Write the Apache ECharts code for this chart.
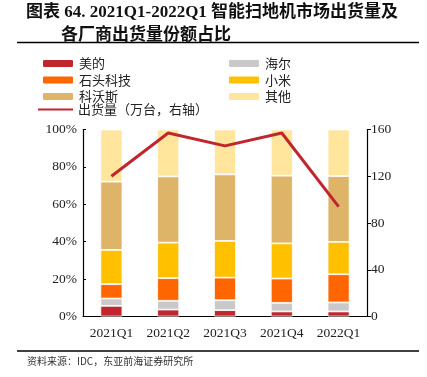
<!DOCTYPE html>
<html>
<head>
<meta charset="utf-8">
<script src="https://cdn.jsdelivr.net/npm/echarts@6/dist/echarts.min.js"></script>
<style>
  html, body { margin: 0; padding: 0; background: #fff; }
  #chart { width: 427px; height: 377px; }
</style>
</head>
<body>
<div id="chart"></div>
<script>
// 季度
var quarters = ['2021Q1', '2021Q2', '2021Q3', '2021Q4', '2022Q1'];

// 各厂商份额 (%)
var midea    = [5.7, 3.7, 3.4, 2.7, 2.7];
var haier    = [3.9, 4.7, 5.3, 4.6, 4.8];
var roborock = [7.7, 12.1, 12.1, 13.0, 15.1];
var xiaomi   = [18.3, 19.0, 19.6, 18.8, 17.3];
var ecovacs  = [36.5, 35.4, 35.6, 36.2, 35.2];
var others   = [27.9, 25.1, 24.0, 24.7, 24.9];

// 出货量（万台）
var shipments = [120, 157, 146, 157, 94];

var serif = '"Liberation Serif", "Noto Sans CJK SC", serif';
var cjk = '"Noto Sans CJK SC", sans-serif';

var myChart = echarts.init(document.getElementById('chart'));

function barSeries(name, data, color) {
    return {
        name: name,
        type: 'bar',
        stack: 'share',
        barWidth: 22,
        data: data,
        itemStyle: { color: color, borderColor: '#fff', borderWidth: 0.8 }
    };
}

var option = {
    backgroundColor: '#fff',
    animation: false,
    title: [{
        text: '图表 64. 2021Q1-2022Q1 智能扫地机市场出货量及',
        left: 21, top: -1,
        textStyle: { fontFamily: serif, fontSize: 17, fontWeight: 'bold', color: '#111' }
    }, {
        text: '各厂商出货量份额占比',
        left: 56, top: 20,
        textStyle: { fontFamily: cjk, fontSize: 17, fontWeight: 'bold', color: '#111' }
    }, {
        text: '资料来源：IDC，东亚前海证券研究所',
        left: 22, top: 351,
        textStyle: { fontFamily: cjk, fontSize: 10, fontWeight: 'normal', color: '#333' }
    }],
    graphic: [
        { type: 'line', shape: { x1: 17, y1: 42.5, x2: 419, y2: 42.5 }, style: { stroke: '#000', lineWidth: 1.5 } },
        { type: 'line', shape: { x1: 17, y1: 351, x2: 419, y2: 351 }, style: { stroke: '#000', lineWidth: 1.5 } }
    ],
    legend: [{
        orient: 'vertical', left: 36, top: 52,
        itemWidth: 32, itemHeight: 9, itemGap: 3.5,
        data: ['美的', '石头科技', '科沃斯'],
        textStyle: { fontFamily: cjk, fontSize: 13, color: '#222' }
    }, {
        orient: 'vertical', left: 222, top: 52,
        itemWidth: 32, itemHeight: 9, itemGap: 3.5,
        data: ['海尔', '小米', '其他'],
        textStyle: { fontFamily: cjk, fontSize: 13, color: '#222' }
    }, {
        left: 33, top: 98,
        itemWidth: 35, itemHeight: 12,
        data: [{ name: '出货量（万台，右轴）', icon: 'path://M0,5L35,5L35,7L0,7Z' }],
        textStyle: { fontFamily: cjk, fontSize: 13, color: '#222' }
    }],
    grid: { left: 83, right: 60, top: 129.5, bottom: 60.5 },
    xAxis: {
        type: 'category',
        data: quarters,
        axisLine: { lineStyle: { color: '#000', width: 1.2 } },
        axisTick: { show: false },
        axisLabel: { fontFamily: serif, fontSize: 13.5, color: '#222', margin: 10 }
    },
    yAxis: [{
        type: 'value',
        min: 0, max: 100, interval: 20,
        axisLine: { show: true, lineStyle: { color: '#000', width: 1.2 } },
        axisTick: { show: true, inside: true, length: 3, lineStyle: { color: '#000' } },
        splitLine: { show: false },
        axisLabel: { fontFamily: serif, fontSize: 13.5, color: '#222', formatter: '{value}%', margin: 6 }
    }, {
        type: 'value',
        min: 0, max: 160, interval: 40,
        axisLine: { show: true, lineStyle: { color: '#000', width: 1.2 } },
        axisTick: { show: true, length: 4, lineStyle: { color: '#000' } },
        splitLine: { show: false },
        axisLabel: { fontFamily: serif, fontSize: 13.5, color: '#222', margin: 4 }
    }],
    series: [
        barSeries('美的', midea, '#C0262D'),
        barSeries('海尔', haier, '#C9C9C9'),
        barSeries('石头科技', roborock, '#FF6600'),
        barSeries('小米', xiaomi, '#FFC000'),
        barSeries('科沃斯', ecovacs, '#DDB468'),
        barSeries('其他', others, '#FFE69C'),
        {
            name: '出货量（万台，右轴）',
            type: 'line',
            yAxisIndex: 1,
            data: shipments,
            symbol: 'none',
            z: 5,
            lineStyle: { color: '#C0262D', width: 3 },
            itemStyle: { color: '#C0262D' }
        }
    ]
};

myChart.setOption(option);
</script>
</body>
</html>
